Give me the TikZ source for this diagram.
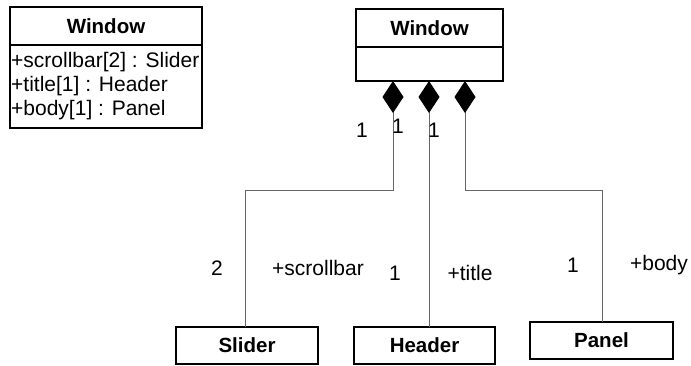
\documentclass[tikz,border=0pt]{standalone}
\usepackage{fontspec}
\setmainfont{Liberation Sans}
\usetikzlibrary{arrows.meta}
\begin{document}
\begin{tikzpicture}[x=1pt,y=-1pt,
  box/.style={draw=black,line width=1.6pt,inner sep=0pt,outer sep=0pt},
  cname/.style={box,font=\fontsize{20.5}{24}\selectfont\bfseries},
  lbl/.style={inner sep=0pt,font=\fontsize{21}{24}\selectfont},
  conn/.style={draw=black!60,line width=1pt},
  comp/.style={conn,{Diamond[length=32pt,width=21pt,fill=black,color=black]}-}]
\useasboundingbox (0,0) rectangle (691,365);
% left Window
\node[cname,minimum width=192pt,minimum height=38pt] (lw) at (106,26) {Window};
\node[box,minimum width=192pt,minimum height=83pt,anchor=north] (lwa) at (lw.south) {};
\node[lbl,anchor=west] (a1) at (11,62) {+scrollbar[2] : Slider};
\node[lbl,anchor=west] (a2) at (11,86) {+title[1] : Header};
\node[lbl,anchor=west] (a3) at (11,110) {+body[1] : Panel};
% right Window
\node[cname,minimum width=147pt,minimum height=38pt] (rw) at (429.5,28) {Window};
\node[box,minimum width=147pt,minimum height=34pt,anchor=north] (rwa) at (rw.south) {};
% parts
\node[cname,minimum width=142pt,minimum height=37pt] (sl) at (247,345.5) {Slider};
\node[cname,minimum width=141pt,minimum height=37pt] (hd) at (424.5,345.5) {Header};
\node[cname,minimum width=143pt,minimum height=37pt] (pn) at (601.5,340.5) {Panel};
% connectors
\coordinate (d1) at (393,81);
\coordinate (d2) at (429,81);
\coordinate (d3) at (465,81);
\coordinate (b1) at (393,190);
\coordinate (b3) at (465,190);
\draw[comp] (d1) -- (b1) -- (b1 -| 245,0) -- (245,0 |- sl.north);
\draw[comp] (d2) -- (d2 |- hd.north);
\draw[comp] (d3) -- (b3) -- (b3 -| 602,0) -- (602,0 |- pn.north);
% labels
\node[lbl] (m1) at (362,130) {1};
\node[lbl] (m2) at (398,126) {1};
\node[lbl] (m3) at (434,130) {1};
\node[lbl] (s1) at (217,268) {2};
\node[lbl] (s2) at (318,268) {+scrollbar};
\node[lbl] (h1) at (395,273) {1};
\node[lbl] (h2) at (470,273) {+title};
\node[lbl] (p1) at (573,265) {1};
\node[lbl] (p2) at (659,265) {+body};
\end{tikzpicture}
\end{document}
